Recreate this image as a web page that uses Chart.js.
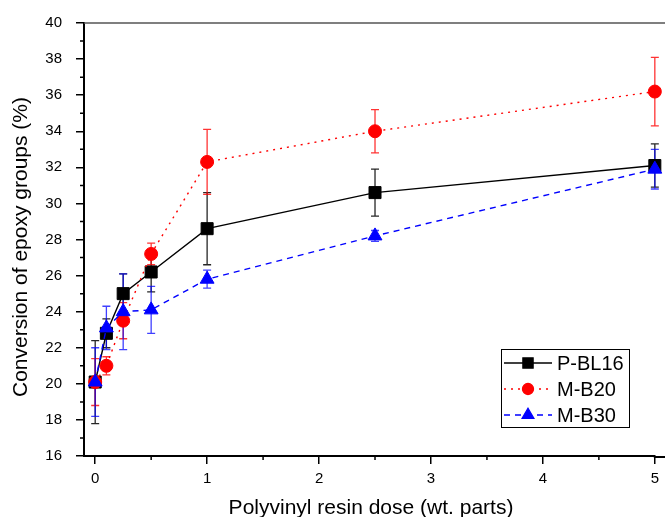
<!DOCTYPE html>
<html>
<head>
<meta charset="utf-8">
<script src="https://cdn.jsdelivr.net/npm/chart.js@4.4.0/dist/chart.umd.min.js"></script>
<style>
html, body { margin: 0; padding: 0; background: #fff; }
</style>
</head>
<body>
<canvas id="myChart" width="665" height="517"></canvas>
<script>
// polyvinyl resin dose (wt. parts)
var doses = [0, 0.1, 0.25, 0.5, 1, 2.5, 5]

var pbl16 = [20.1, 22.8, 25.0, 26.2, 28.6, 30.6, 32.1]
var pbl16Err = [2.3, 0.8, 1.1, 1.1, 2.0, 1.3, 1.2]

var mb20 = [20.1, 21.0, 23.5, 27.2, 32.3, 34.0, 36.2]
var mb20Err = [1.3, 0.5, 1.0, 0.6, 1.8, 1.2, 1.9]

var mb30 = [20.1, 23.1, 24.0, 24.1, 25.8, 28.2, 31.9]
var mb30Err = [1.9, 1.2, 2.1, 1.3, 0.5, 0.3, 1.1]

var xTicks = [0, 1, 2, 3, 4, 5]
var xMinor = [0.5, 1.5, 2.5, 3.5, 4.5]
var yTicks = [16, 18, 20, 22, 24, 26, 28, 30, 32, 34, 36, 38, 40]
var yMinor = [17, 19, 21, 23, 25, 27, 29, 31, 33, 35, 37, 39]

var FONT = "'Liberation Sans', Arial, sans-serif"

function pts(ys) {
  return doses.map(function (d, i) { return { x: d, y: ys[i] } })
}

var series = [
  { label: 'P-BL16', data: pbl16, err: pbl16Err, color: '#000000', errColor: 'rgba(0,0,0,0.85)', dash: [], style: 'rect', radius: 8.5, order: 2 },
  { label: 'M-B20', data: mb20, err: mb20Err, color: '#ff0000', errColor: 'rgba(255,0,0,0.8)', dash: [2, 5], style: 'circle', radius: 6.5, order: 1 },
  { label: 'M-B30', data: mb30, err: mb30Err, color: '#0000ff', errColor: 'rgba(0,0,255,0.75)', dash: [6, 5], style: 'triangle', radius: 8, order: 0 }
]

// error bars, minor ticks, top frame, axis titles, legend box
var extras = {
  id: 'extras',
  beforeDatasetsDraw: function (chart) {
    var ctx = chart.ctx
    var xs = chart.scales.x, ys = chart.scales.y
    ctx.save()
    series.forEach(function (s) {
      ctx.strokeStyle = s.errColor
      ctx.lineWidth = 1.3
      s.data.forEach(function (v, i) {
        var px = xs.getPixelForValue(doses[i])
        var top = ys.getPixelForValue(v + s.err[i])
        var bot = ys.getPixelForValue(v - s.err[i])
        ctx.beginPath()
        ctx.moveTo(px, top); ctx.lineTo(px, bot)
        ctx.moveTo(px - 4, top); ctx.lineTo(px + 4, top)
        ctx.moveTo(px - 4, bot); ctx.lineTo(px + 4, bot)
        ctx.stroke()
      })
    })
    ctx.restore()
  },
  afterDraw: function (chart) {
    var ctx = chart.ctx
    var area = chart.chartArea
    var xs = chart.scales.x, ys = chart.scales.y
    ctx.save()

    // top frame
    ctx.strokeStyle = '#555'
    ctx.lineWidth = 1.5
    ctx.beginPath()
    ctx.moveTo(area.left, area.top)
    ctx.lineTo(chart.width, area.top)
    ctx.stroke()

    // bottom axis line runs on to the edge of the picture
    ctx.strokeStyle = '#000'
    ctx.lineWidth = 2
    ctx.beginPath()
    ctx.moveTo(area.right - 1, area.bottom + 1)
    ctx.lineTo(chart.width, area.bottom + 1)
    ctx.stroke()

    // minor ticks
    ctx.lineWidth = 1.5
    ctx.beginPath()
    yMinor.forEach(function (v) {
      var py = ys.getPixelForValue(v)
      ctx.moveTo(area.left - 4, py); ctx.lineTo(area.left, py)
    })
    xMinor.forEach(function (v) {
      var px = xs.getPixelForValue(v)
      ctx.moveTo(px, area.bottom); ctx.lineTo(px, area.bottom + 4)
    })
    ctx.stroke()

    // axis titles
    ctx.fillStyle = '#000'
    ctx.font = '21px ' + FONT
    ctx.textAlign = 'center'
    ctx.textBaseline = 'middle'
    ctx.fillText('Polyvinyl resin dose (wt. parts)', 371, 508)
    ctx.save()
    ctx.translate(21, 247)
    ctx.rotate(-Math.PI / 2)
    ctx.fillText('Conversion of epoxy groups (%)', 0, 0)
    ctx.restore()

    // legend
    var lx = 501, ly = 349, lw = 128, lh = 78
    ctx.fillStyle = '#fff'
    ctx.fillRect(lx, ly, lw, lh)
    ctx.strokeStyle = '#000'
    ctx.lineWidth = 1
    ctx.strokeRect(lx + 0.5, ly + 0.5, lw, lh)
    series.forEach(function (s, i) {
      var cy = ly + 14 + i * 26
      ctx.strokeStyle = s.color
      ctx.lineWidth = 1.3
      ctx.setLineDash(s.dash)
      ctx.beginPath()
      ctx.moveTo(lx + 3, cy); ctx.lineTo(lx + 51, cy)
      ctx.stroke()
      ctx.setLineDash([])
      ctx.fillStyle = s.color
      Chart.helpers.drawPoint(ctx, { pointStyle: s.style, radius: s.radius * 0.85, rotation: 0, borderWidth: 1 }, lx + 27, cy)
      ctx.fillStyle = '#000'
      ctx.font = '20px ' + FONT
      ctx.textAlign = 'left'
      ctx.textBaseline = 'middle'
      ctx.fillText(s.label, lx + 56, cy + 1)
    })
    ctx.restore()
  }
}

var myChart = document.getElementById('myChart').getContext('2d')

var chart = new Chart(myChart, {
  type: 'scatter',
  data: {
    datasets: series.map(function (s) {
      return {
        label: s.label,
        data: pts(s.data),
        showLine: true,
        clip: false,
        borderColor: s.color,
        backgroundColor: s.color,
        borderWidth: 1.4,
        borderDash: s.dash,
        pointStyle: s.style,
        pointRadius: s.radius,
        pointHoverRadius: s.radius,
        pointBorderWidth: 1,
        order: s.order
      }
    })
  },
  options: {
    responsive: false,
    animation: false,
    events: [],
    layout: { padding: { top: 22, right: 0, left: 0, bottom: 0 } },
    plugins: { legend: { display: false }, tooltip: { enabled: false } },
    scales: {
      x: {
        type: 'linear',
        min: -0.1,
        max: 5.0,
        afterBuildTicks: function (scale) { scale.ticks = xTicks.map(function (v) { return { value: v } }) },
        afterFit: function (scale) { scale.height = 61 },
        grid: { drawOnChartArea: false, drawTicks: true, tickLength: 8, color: '#000', lineWidth: 1.5 },
        border: { display: true, color: '#000', width: 2 },
        ticks: { color: '#000', font: { family: FONT, size: 15 }, padding: 6, maxRotation: 0 }
      },
      y: {
        type: 'linear',
        min: 16,
        max: 40,
        afterBuildTicks: function (scale) { scale.ticks = yTicks.map(function (v) { return { value: v } }) },
        afterFit: function (scale) { scale.width = 84 },
        grid: { drawOnChartArea: false, drawTicks: true, tickLength: 8, color: '#000', lineWidth: 1.5 },
        border: { display: true, color: '#000', width: 2 },
        ticks: { color: '#000', font: { family: FONT, size: 15 }, padding: 14 }
      }
    }
  },
  plugins: [extras]
})
</script>
</body>
</html>
